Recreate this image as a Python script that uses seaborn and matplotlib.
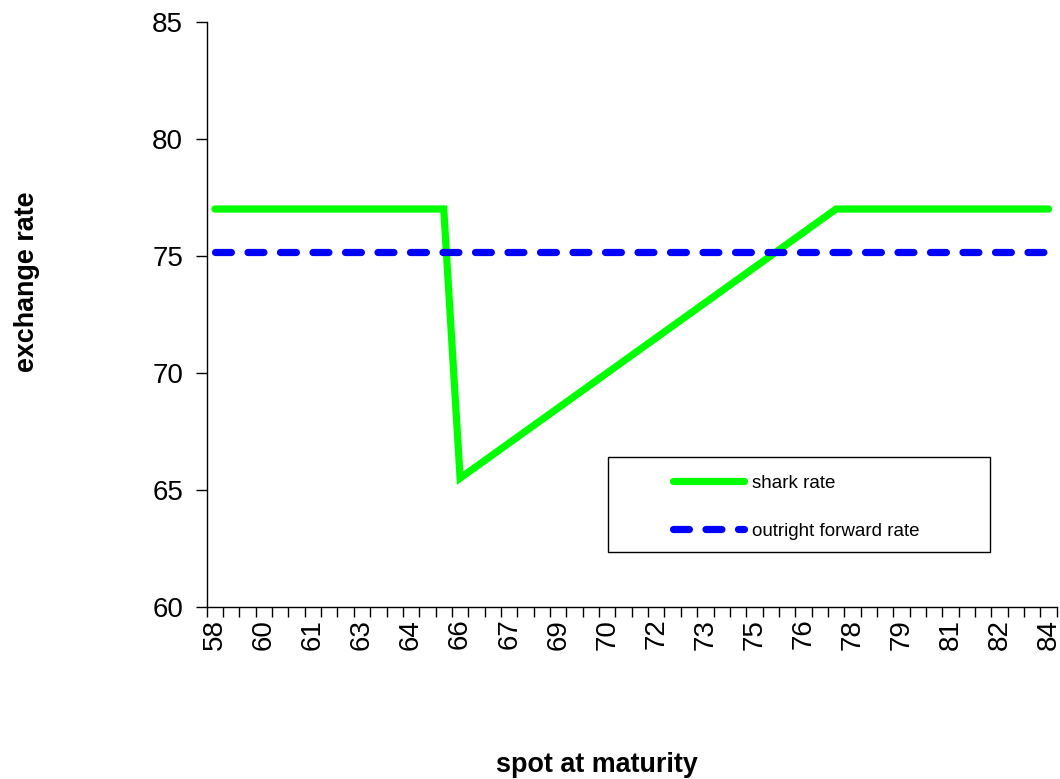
import numpy as np
import matplotlib
matplotlib.use("Agg")
import matplotlib.pyplot as plt
import pandas as pd
import seaborn as sns
from matplotlib.patches import Rectangle


# DATOS
spot = [58.0, 58.5, 59.0, 59.5, 60.0, 60.5, 61.0, 61.5, 62.0, 62.5,
        63.0, 63.5, 64.0, 64.5, 65.0, 65.5, 66.0, 66.5, 67.0, 67.5,
        68.0, 68.5, 69.0, 69.5, 70.0, 70.5, 71.0, 71.5, 72.0, 72.5,
        73.0, 73.5, 74.0, 74.5, 75.0, 75.5, 76.0, 76.5, 77.0, 77.5,
        78.0, 78.5, 79.0, 79.5, 80.0, 80.5, 81.0, 81.5, 82.0, 82.5,
        83.0, 83.5]

shark_rate = [77.0, 77.0, 77.0, 77.0, 77.0, 77.0, 77.0, 77.0, 77.0, 77.0,
              77.0, 77.0, 77.0, 77.0, 77.0, 65.5, 66.0, 66.5, 67.0, 67.5,
              68.0, 68.5, 69.0, 69.5, 70.0, 70.5, 71.0, 71.5, 72.0, 72.5,
              73.0, 73.5, 74.0, 74.5, 75.0, 75.5, 76.0, 76.5, 77.0, 77.0,
              77.0, 77.0, 77.0, 77.0, 77.0, 77.0, 77.0, 77.0, 77.0, 77.0,
              77.0, 77.0]

forward_rate = [75.15, 75.15, 75.15, 75.15, 75.15, 75.15, 75.15, 75.15, 75.15, 75.15,
                75.15, 75.15, 75.15, 75.15, 75.15, 75.15, 75.15, 75.15, 75.15, 75.15,
                75.15, 75.15, 75.15, 75.15, 75.15, 75.15, 75.15, 75.15, 75.15, 75.15,
                75.15, 75.15, 75.15, 75.15, 75.15, 75.15, 75.15, 75.15, 75.15, 75.15,
                75.15, 75.15, 75.15, 75.15, 75.15, 75.15, 75.15, 75.15, 75.15, 75.15,
                75.15, 75.15]

# etiquetas como las pone Excel (redondeo hacia arriba)
x_labels = ["58", "60", "61", "63", "64", "66", "67", "69", "70",
            "72", "73", "75", "76", "78", "79", "81", "82", "84"]
y_ticks = [60, 65, 70, 75, 80, 85]


df = pd.DataFrame({"spot": spot, "shark": shark_rate, "forward": forward_rate})

sns.set_style("white")
plt.rcParams["font.family"] = ["Liberation Sans", "DejaVu Sans"]
plt.rcParams["text.color"] = "black"
plt.rcParams["xtick.color"] = "black"
plt.rcParams["ytick.color"] = "black"
plt.rcParams["axes.labelcolor"] = "black"

fig = plt.figure(figsize=(10.6, 7.79), dpi=100)
ax = fig.add_axes([0.195, 0.221, 0.802, 0.751])

sns.lineplot(data=df, x="spot", y="shark", ax=ax, color="#00FF00",
             linewidth=5.2, solid_capstyle="round", solid_joinstyle="miter",
             label="shark rate")
sns.lineplot(data=df, x="spot", y="forward", ax=ax, color="#0000FF",
             linewidth=5.2, dashes=(2.2, 2.3), dash_capstyle="round",
             label="outright forward rate")

# eje x de categorias
paso = spot[1] - spot[0]
ax.set_xlim(spot[0] - paso / 2, spot[-1] + paso / 2)
ax.set_xticks(spot[::3])
ax.set_xticklabels(x_labels, rotation=90, fontsize=20)
ax.set_xticks(np.arange(spot[0] - paso / 2, spot[-1] + paso, paso), minor=True)
ax.tick_params(axis="x", which="major", length=0, pad=8.5)
ax.tick_params(axis="x", which="minor", length=7, width=1, direction="out", color="black")

ax.set_ylim(60, 85)
ax.set_yticks(y_ticks)
ax.tick_params(axis="y", length=8, width=1, direction="out", color="black", pad=9, labelsize=20)
ax.yaxis.set_ticks_position("left")
ax.xaxis.set_ticks_position("bottom")

for lado in ["top", "right"]:
    ax.spines[lado].set_visible(False)
for lado in ["left", "bottom"]:
    ax.spines[lado].set_color("black")
    ax.spines[lado].set_linewidth(1)

ax.set_xlabel("")
ax.set_ylabel("")
fig.text(597 / 1060, 1 - 765 / 779, "spot at maturity", fontsize=19.4,
         fontweight="bold", ha="center", va="center")
fig.text(27 / 1060, 1 - 282 / 779, "exchange rate", fontsize=19.4,
         fontweight="bold", ha="center", va="center", rotation=90)

# leyenda con su caja
ax.legend(loc="center left", bbox_to_anchor=(673 / 1060, 1 - 507 / 779),
          bbox_transform=fig.transFigure, frameon=False, fontsize=13.5,
          handlelength=3.8, handletextpad=0.4, labelspacing=1.65,
          borderpad=0, borderaxespad=0)
caja = Rectangle((608 / 1060, 1 - 552 / 779), (990 - 608) / 1060, (552 - 457) / 779,
                 transform=fig.transFigure, fill=False, edgecolor="black", linewidth=1)
fig.patches.append(caja)

fig.savefig("out.png", dpi=100)
